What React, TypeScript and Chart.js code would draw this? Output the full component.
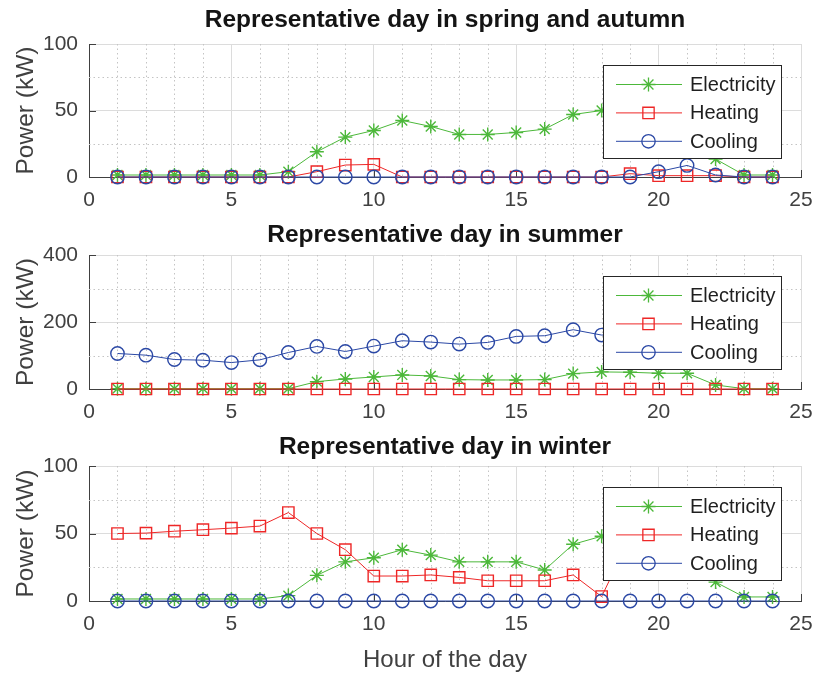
import React, { useEffect, useRef } from 'react';
import { Chart, registerables } from 'chart.js';

Chart.register(...registerables);

// ---------- data ----------
const hours = [1, 2, 3, 4, 5, 6, 7, 8, 9, 10, 11, 12, 13, 14, 15, 16, 17, 18, 19, 20, 21, 22, 23, 24];
const xMinorTicks = [1, 2, 3, 4, 6, 7, 8, 9, 11, 12, 13, 14, 16, 17, 18, 19, 21, 22, 23, 24];

const springElectricity = [1.5, 1.5, 1.5, 1.5, 1.5, 1.5, 4, 19, 30, 35, 42.5, 38, 32, 32, 33.5, 36, 47, 50, 52, 48, 43, 13.5, 1.5, 1.5];
const springHeating = [0, 0, 0, 0, 0, 0, 0, 4, 9, 9.5, 0, 0, 0, 0, 0, 0, 0, 0, 2.5, 1, 1, 1, 0, 0];
const springCooling = [0, 0, 0, 0, 0, 0, 0, 0, 0, 0, 0, 0, 0, 0, 0, 0, 0, 0, 0, 4, 8.7, 1.5, 0, 0];

const summerElectricity = [1, 1, 1, 1, 1, 1, 1, 22, 30, 36, 42, 39, 28, 27, 27, 28, 46, 51, 50, 47, 47, 12, 1, 1];
const summerHeating = [0, 0, 0, 0, 0, 0, 0, 0, 0, 0, 0, 0, 0, 0, 0, 0, 0, 0, 0, 0, 0, 0, 0, 0];
const summerCooling = [106, 101, 88, 86, 79, 87, 109, 127, 112, 128, 144, 140, 134, 139, 157, 159, 177, 161, 165, 150, 140, 130, 118, 110];

const winterElectricity = [1.5, 1.5, 1.5, 1.5, 1.5, 1.5, 4, 19, 29, 32, 38, 34, 29, 29, 29, 23, 42, 48, 50, 47, 42, 14, 3, 3];
const winterHeating = [50, 50.3, 51.7, 52.8, 54, 55.5, 65.5, 50, 38, 18.5, 18.5, 19.3, 17.5, 15, 15, 15, 19.3, 3.3, 47, 50, 52, 53, 52, 50];
const winterCooling = [0, 0, 0, 0, 0, 0, 0, 0, 0, 0, 0, 0, 0, 0, 0, 0, 0, 0, 0, 0, 0, 0, 0, 0];

const xTickValues = [0, 5, 10, 15, 20, 25];
const yTicksSmall = [0, 50, 100];
const yMinorSmall = [25, 75];
const yTicksLarge = [0, 200, 400];
const yMinorLarge = [100, 300];

const seriesNames = ['Electricity', 'Heating', 'Cooling'];
const titles = [
  'Representative day in spring and autumn',
  'Representative day in summer',
  'Representative day in winter',
];

// ---------- styles ----------
const FONT = "'Liberation Sans', Arial, Helvetica, sans-serif";
const W = 815;
const H = 675;
const AREA_LEFT = 89;
const AREA_RIGHT = 801;
const seriesStyles = [
  { color: '#4cb83a', marker: 'star', radius: 7, order: 2 },
  { color: '#ee2727', marker: 'rect', radius: 8, order: 1 },
  { color: '#2b48a5', marker: 'circle', radius: 6.7, order: 0 },
];

const panels = [
  { title: titles[0], series: [springElectricity, springHeating, springCooling], yTicks: yTicksSmall, yMinor: yMinorSmall, titleY: 20, top: 44, bottom: 177, xh: 40, xTitle: false },
  { title: titles[1], series: [summerElectricity, summerHeating, summerCooling], yTicks: yTicksLarge, yMinor: yMinorLarge, titleY: 235, top: 255, bottom: 389, xh: 40, xTitle: false },
  { title: titles[2], series: [winterElectricity, winterHeating, winterCooling], yTicks: yTicksSmall, yMinor: yMinorSmall, titleY: 447, top: 466, bottom: 601, xh: 74, xTitle: true },
];

function drawMarker(ctx: CanvasRenderingContext2D, kind: string, x: number, y: number, r: number) {
  ctx.beginPath();
  if (kind === 'star') {
    for (let k = 0; k < 4; k++) {
      const a = (k * Math.PI) / 4;
      ctx.moveTo(x - r * Math.cos(a), y - r * Math.sin(a));
      ctx.lineTo(x + r * Math.cos(a), y + r * Math.sin(a));
    }
  } else if (kind === 'rect') {
    const s = r * Math.SQRT1_2;
    ctx.rect(x - s, y - s, 2 * s, 2 * s);
  } else {
    ctx.arc(x, y, r, 0, Math.PI * 2);
  }
  ctx.stroke();
}

function makePlugin(panel: any) {
  return {
    id: 'matlabDecor',
    beforeDatasetsDraw(chart: any) {
      const { ctx, chartArea: a, scales } = chart;
      const x = scales.x;
      const y = scales.y;
      ctx.save();
      ctx.strokeStyle = '#c4c4c4';
      ctx.lineWidth = 1;
      ctx.setLineDash([1.5, 3]);
      ctx.beginPath();
      for (const v of xMinorTicks) {
        const px = Math.round(x.getPixelForValue(v)) + 0.5;
        ctx.moveTo(px, a.top);
        ctx.lineTo(px, a.bottom);
      }
      for (const v of panel.yMinor) {
        const py = Math.round(y.getPixelForValue(v)) + 0.5;
        ctx.moveTo(a.left, py);
        ctx.lineTo(a.right, py);
      }
      ctx.stroke();
      ctx.setLineDash([]);
      ctx.strokeStyle = '#404040';
      ctx.beginPath();
      for (const t of y.ticks) {
        const py = Math.round(y.getPixelForValue(t.value)) + 0.5;
        ctx.moveTo(a.left, py);
        ctx.lineTo(a.left + 7, py);
      }
      for (const t of x.ticks) {
        const px = Math.round(x.getPixelForValue(t.value)) + 0.5;
        ctx.moveTo(px, a.bottom);
        ctx.lineTo(px, a.bottom - 7);
      }
      ctx.stroke();
      ctx.restore();
    },
    afterDraw(chart: any) {
      const { ctx, chartArea: a } = chart;
      const w = 178;
      const h = 93;
      const bx = Math.round(a.right - 20 - w);
      const by = Math.round(a.top + 21);
      ctx.save();
      ctx.fillStyle = '#ffffff';
      ctx.fillRect(bx, by, w, h);
      ctx.strokeStyle = '#262626';
      ctx.lineWidth = 1;
      ctx.strokeRect(bx + 0.5, by + 0.5, w, h);
      seriesNames.forEach((name, i) => {
        const st = seriesStyles[i];
        const cy = by + 19.5 + i * 28.4;
        ctx.strokeStyle = st.color;
        ctx.lineWidth = 1;
        ctx.beginPath();
        ctx.moveTo(bx + 13, cy);
        ctx.lineTo(bx + 79, cy);
        ctx.stroke();
        ctx.lineWidth = 1.3;
        drawMarker(ctx, st.marker, bx + 45.5, cy, st.radius);
        ctx.fillStyle = '#1f1f1f';
        ctx.font = `20px ${FONT}`;
        ctx.textAlign = 'left';
        ctx.textBaseline = 'middle';
        ctx.fillText(name, bx + 87, cy + 1);
      });
      ctx.restore();
    },
  };
}

function Panel({ panel }: { panel: any }) {
  const ref = useRef<HTMLCanvasElement | null>(null);
  useEffect(() => {
    if (!ref.current) return;
    const yMax = panel.yTicks[panel.yTicks.length - 1];
    const yStep = panel.yTicks[1] - panel.yTicks[0];
    const titleSize = 24.5;
    const titleLH = titleSize * 1.2;
    const chart = new Chart(ref.current, {
      type: 'line',
      data: {
        datasets: panel.series.map((vals: number[], i: number) => ({
          label: seriesNames[i],
          data: hours.map((h, k) => ({ x: h, y: vals[k] })),
          borderColor: seriesStyles[i].color,
          backgroundColor: 'rgba(0,0,0,0)',
          borderWidth: 1,
          pointStyle: seriesStyles[i].marker,
          pointRadius: seriesStyles[i].radius,
          pointBorderWidth: 1.4,
          pointBorderColor: seriesStyles[i].color,
          pointBackgroundColor: 'rgba(0,0,0,0)',
          tension: 0,
          fill: false,
          order: seriesStyles[i].order,
          clip: false,
        })),
      },
      options: {
        responsive: false,
        animation: false,
        devicePixelRatio: 1,
        events: [],
        layout: {
          padding: { top: panel.titleY - titleLH / 2, left: 0, right: W - AREA_RIGHT, bottom: H - panel.bottom - panel.xh },
        },
        plugins: {
          legend: { display: false },
          tooltip: { enabled: false },
          title: {
            display: true,
            text: panel.title,
            fullSize: false,
            color: '#141414',
            font: { family: FONT, size: titleSize, weight: 'bold' },
            padding: { top: 0, bottom: panel.top - panel.titleY - titleLH / 2 },
          },
        },
        scales: {
          x: {
            type: 'linear',
            min: xTickValues[0],
            max: xTickValues[xTickValues.length - 1],
            afterFit: (s: any) => {
              s.height = panel.xh;
              s.paddingLeft = 0;
              s.paddingRight = 0;
            },
            afterBuildTicks: (s: any) => { s.ticks = xTickValues.map((v) => ({ value: v })); },
            ticks: { stepSize: 5, padding: 11, color: '#404040', font: { family: FONT, size: 21 }, maxRotation: 0 },
            grid: { color: '#dcdcdc', lineWidth: 1, drawTicks: false },
            border: { display: true, color: '#404040', width: 1 },
            title: {
              display: panel.xTitle,
              text: 'Hour of the day',
              color: '#404040',
              font: { family: FONT, size: 24 },
              padding: { top: 0, bottom: 0 },
            },
          },
          y: {
            type: 'linear',
            min: 0,
            max: yMax,
            afterFit: (s: any) => {
              s.width = AREA_LEFT;
              s.paddingTop = 0;
              s.paddingBottom = 0;
            },
            afterBuildTicks: (s: any) => { s.ticks = panel.yTicks.map((v: number) => ({ value: v })); },
            ticks: { stepSize: yStep, padding: 11, color: '#404040', font: { family: FONT, size: 21 } },
            grid: { color: '#dcdcdc', lineWidth: 1, drawTicks: false },
            border: { display: true, color: '#404040', width: 1 },
            title: {
              display: true,
              text: 'Power (kW)',
              color: '#404040',
              font: { family: FONT, size: 24.5 },
              padding: { top: 12, bottom: 0 },
            },
          },
        },
      },
      plugins: [makePlugin(panel)],
    } as any);
    return () => chart.destroy();
  }, [panel]);
  return (
    <canvas
      ref={ref}
      width={W}
      height={H}
      style={{ position: 'absolute', left: 0, top: 0, width: W, height: H }}
    />
  );
}

export default function App() {
  useEffect(() => {
    document.body.style.margin = '0';
    document.body.style.background = '#ffffff';
  }, []);
  return (
    <div style={{ position: 'relative', width: W, height: H, background: '#ffffff' }}>
      {panels.map((p, i) => (
        <Panel key={i} panel={p} />
      ))}
    </div>
  );
}
